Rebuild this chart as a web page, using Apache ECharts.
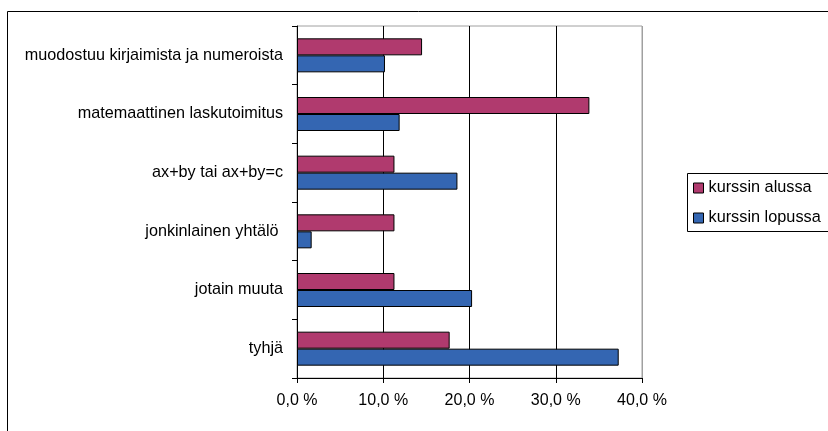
<!DOCTYPE html>
<html>
<head>
<meta charset="utf-8">
<script src="https://cdn.jsdelivr.net/npm/echarts@6/dist/echarts.min.js"></script>
<style>
  html, body { margin: 0; padding: 0; background: #fff; }
  #chart { width: 828px; height: 431px; }
</style>
</head>
<body>
<div id="chart"></div>
<script>
// categories top -> bottom, as in the picture
const categories = [
  "muodostuu kirjaimista ja numeroista",
  "matemaattinen laskutoimitus",
  "ax+by tai ax+by=c",
  "jonkinlainen yhtälö ",
  "jotain muuta",
  "tyhjä"
];
const seriesNames = ["kurssin alussa", "kurssin lopussa"];
// percent values
const alussa = [14.5, 33.9, 11.3, 11.3, 11.3, 17.7];
const lopussa = [10.2, 11.9, 18.6, 1.7, 20.3, 37.3];
const tickLabels = ["0,0 %", "10,0 %", "20,0 %", "30,0 %", "40,0 %"];

const colors = ["#B03A6E", "#3466B2"];
const font = "'Liberation Sans', Arial, sans-serif";

const chart = echarts.init(document.getElementById("chart"));

chart.setOption({
  animation: false,
  textStyle: { fontFamily: font },
  graphic: [
    // outer chart frame, runs off the right and bottom edge
    {
      type: "polyline",
      shape: { points: [[900, 11.5], [7.5, 11.5], [7.5, 500]] },
      style: { fill: null, stroke: "#000", lineWidth: 1 },
      silent: true
    },
    // legend frame, open on the right (cut off by the edge)
    {
      type: "polyline",
      shape: { points: [[900, 173.5], [687.5, 173.5], [687.5, 231.5], [900, 231.5]] },
      style: { fill: null, stroke: "#000", lineWidth: 1 },
      silent: true
    }
  ],
  grid: {
    left: 297,
    right: 186,
    top: 26,
    bottom: 53,
    show: true,
    borderColor: "#a0a0a0",
    borderWidth: 1
  },
  legend: {
    orient: "vertical",
    left: 687,
    top: 173,
    padding: [7, 4, 6, 6],
    borderWidth: 0,
    itemGap: 14,
    itemWidth: 10,
    itemHeight: 10,
    icon: "rect",
    itemStyle: { borderColor: "#000", borderWidth: 1 },
    textStyle: { fontFamily: font, fontSize: 16.3, color: "#000" },
    data: seriesNames
  },
  xAxis: {
    type: "value",
    min: 0,
    max: 40,
    interval: 10,
    axisLine: { show: true, lineStyle: { color: "#000" } },
    axisTick: { show: true, length: 5, lineStyle: { color: "#000" } },
    axisLabel: {
      margin: 15,
      fontSize: 16,
      color: "#000",
      fontFamily: font,
      formatter: (v) => tickLabels[Math.round(v / 10)]
    },
    splitLine: {
      show: true,
      lineStyle: { color: ["#000", "#000", "#000", "#000", "#a0a0a0"] }
    }
  },
  yAxis: {
    type: "category",
    inverse: true,
    data: categories,
    axisLine: { show: true, lineStyle: { color: "#000" } },
    axisTick: { show: true, length: 5, lineStyle: { color: "#000" } },
    axisLabel: { margin: 14, fontSize: 16.2, color: "#000", fontFamily: font },
    splitLine: { show: false }
  },
  series: [
    {
      name: seriesNames[0],
      type: "bar",
      data: alussa,
      barWidth: 17,
      barGap: "0%",
      itemStyle: { color: colors[0], borderColor: "#000", borderWidth: 1 }
    },
    {
      name: seriesNames[1],
      type: "bar",
      data: lopussa,
      barWidth: 17,
      barGap: "0%",
      itemStyle: { color: colors[1], borderColor: "#000", borderWidth: 1 }
    }
  ]
});
</script>
</body>
</html>
